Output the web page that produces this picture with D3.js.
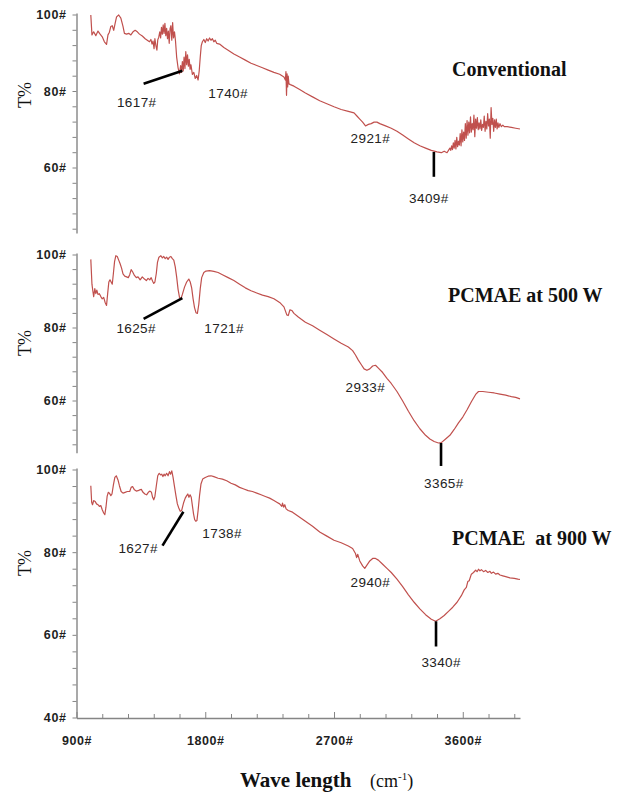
<!DOCTYPE html>
<html>
<head>
<meta charset="utf-8">
<script src="https://cdn.jsdelivr.net/npm/d3@7"></script>
<style>
  body { margin: 0; background: #fff; }
  svg { display: block; }
  .tick text { font-family: "Liberation Sans", Arial, sans-serif; font-weight: bold; font-size: 12.5px; fill: #1f1f1f; letter-spacing: 0.6px; }
  .peak { font-family: "Liberation Sans", Arial, sans-serif; font-size: 13.5px; fill: #222; letter-spacing: 0.4px; }
  .title { font-family: "Liberation Serif", "Times New Roman", serif; font-weight: bold; font-size: 20px; fill: #111; }
</style>
</head>
<body>
<div id="chart"></div>
<script>
// ---- data (wavenumber cm-1, transmittance %) ----
let convWn = [1000,1008,1020,1035,1050,1065,1080,1095,1110,1120,1130,1140,1150,1160,1170,1180,1195,1210,1225,1235,1250,1265,1280,1295,1310,1325,1340,1360,1380,1395,1410,1420,1428,1435,1442,1448,1455,1462,1468,1475,1482,1488,1494,1500,1506,1512,1518,1524,1530,1536,1542,1548,1554,1560,1566,1572,1578,1585,1592,1600,1610,1620,1628,1634,1640,1646,1652,1658,1664,1670,1676,1682,1688,1694,1700,1710,1720,1730,1740,1750,1758,1765,1772,1780,1790,1800,1810,1820,1830,1840,1850,1860,1870,1880,1900,1930,1960,2000,2040,2080,2120,2160,2200,2240,2280,2320,2350,2360,2364,2368,2372,2376,2380,2385,2395,2420,2460,2500,2550,2600,2650,2700,2750,2800,2840,2860,2880,2900,2920,2940,2960,2980,3000,3020,3060,3100,3140,3180,3220,3260,3300,3340,3380,3420,3450,3470,3490,3500,3510,3516,3522,3528,3534,3540,3546,3552,3558,3564,3570,3576,3582,3588,3594,3600,3606,3612,3618,3624,3630,3636,3642,3648,3654,3660,3666,3672,3678,3684,3690,3696,3702,3708,3714,3720,3726,3732,3738,3744,3750,3756,3762,3768,3774,3780,3786,3792,3798,3804,3810,3816,3822,3828,3834,3840,3846,3852,3860,3870,3880,3890,3910,3940,3970,4000]
let convT = [100,94.8,95.6,94.6,95.8,95.0,94.3,93.0,92.3,94.8,95.5,97.0,97.2,96.0,97.8,99.5,100.0,99.2,97.0,95.2,95.0,95.2,94.8,95.6,96.0,95.6,95.0,94.5,93.8,93.4,93.0,93.6,92.4,93.2,91.2,93.8,92.0,90.8,93.5,94.2,95.6,94.0,96.8,95.0,97.4,95.2,97.8,94.6,96.5,93.8,95.8,92.6,96.4,97.2,93.4,98.0,94.0,95.6,93.2,89.0,86.2,84.6,86.8,85.0,87.8,85.4,89.0,86.0,90.4,87.0,89.6,86.6,88.4,85.8,87.0,84.5,85.0,83.4,84.2,83.0,85.5,89.0,92.0,93.0,93.6,92.8,93.8,93.2,94.0,93.4,93.8,93.0,93.4,92.6,92.4,91.5,90.8,89.8,89.0,88.2,87.4,86.8,86.2,85.6,85.0,84.5,83.8,83.0,85.2,79.0,84.6,81.2,84.0,82.0,81.8,81.4,80.5,79.6,78.6,77.6,76.8,76.0,75.3,74.8,74.4,73.6,72.8,72.0,71.0,71.4,71.6,72.0,72.0,71.6,71.0,70.4,69.6,68.6,67.6,66.6,65.8,65.2,64.6,64.2,64.0,64.4,64.0,64.6,65.2,64.6,65.8,64.8,66.6,65.2,67.2,65.0,68.0,65.6,67.0,66.0,69.0,65.8,70.0,66.8,69.4,67.2,71.6,67.8,72.4,68.6,72.0,69.2,73.4,69.4,71.6,70.0,73.8,68.2,72.8,70.4,73.2,70.0,71.8,70.2,72.6,69.8,71.4,70.6,73.6,69.6,72.2,70.2,74.2,71.0,72.8,67.8,75.8,71.4,73.0,69.6,72.6,70.6,72.8,70.2,71.8,70.6,71.6,70.8,71.2,70.8,70.8,70.6,70.4,70.2]

let w500Wn = [1000,1008,1014,1020,1028,1035,1042,1050,1060,1070,1080,1090,1100,1110,1118,1126,1134,1142,1150,1158,1166,1175,1185,1195,1205,1215,1225,1237,1250,1262,1272,1282,1292,1305,1318,1330,1345,1360,1375,1388,1400,1412,1422,1432,1440,1448,1458,1466,1476,1490,1500,1510,1520,1530,1540,1550,1560,1570,1580,1590,1600,1610,1620,1630,1640,1655,1670,1685,1695,1705,1715,1725,1735,1745,1755,1765,1775,1790,1805,1830,1860,1890,1920,1960,2000,2040,2080,2120,2160,2200,2240,2280,2320,2350,2370,2380,2392,2405,2420,2450,2500,2550,2600,2650,2700,2750,2800,2830,2850,2870,2890,2910,2930,2950,2970,2990,3010,3040,3070,3100,3140,3180,3220,3260,3300,3340,3370,3400,3430,3450,3480,3510,3540,3570,3600,3630,3660,3690,3710,3740,3780,3820,3860,3900,3940,3970,4000]
let w500T = [98.8,92.0,90.2,88.6,90.8,89.4,90.4,89.2,89.4,88.6,88.0,88.4,87.0,86.2,89.5,92.6,93.2,92.6,92.0,95.0,98.2,99.8,99.6,98.6,97.6,96.4,94.8,94.2,94.0,93.8,94.6,96.0,95.4,94.4,93.8,94.0,93.2,94.0,93.4,93.0,93.6,93.2,93.8,92.8,92.2,92.6,95.0,98.0,99.4,99.8,99.2,99.6,99.0,99.4,98.8,99.4,99.6,99.0,98.6,96.8,94.0,90.6,88.4,88.0,89.2,91.2,92.6,93.4,92.6,91.0,88.0,85.6,84.2,84.0,86.5,90.8,93.8,95.2,95.6,95.7,95.5,95.2,94.6,93.8,93.0,92.0,91.0,90.2,89.6,89.0,88.6,88.0,87.0,85.8,83.6,83.4,85.0,84.8,84.0,83.0,81.6,80.6,79.4,78.2,77.0,75.8,74.8,73.8,72.6,71.2,70.0,68.8,68.4,68.8,69.6,69.8,69.0,67.8,66.2,64.8,62.6,60.0,57.2,54.6,52.4,50.6,49.6,48.9,48.5,48.6,49.6,50.6,52.2,54.0,55.6,57.6,59.8,61.8,62.6,62.6,62.4,62.2,61.9,61.6,61.2,61.0,60.6]

let w900Wn = [1000,1006,1012,1020,1030,1040,1050,1060,1070,1080,1090,1098,1106,1114,1122,1130,1140,1148,1158,1168,1178,1190,1200,1212,1225,1240,1255,1272,1282,1292,1305,1318,1330,1342,1353,1365,1378,1390,1402,1414,1424,1432,1440,1448,1458,1468,1478,1488,1496,1504,1512,1520,1530,1540,1550,1558,1566,1575,1585,1595,1605,1615,1625,1635,1648,1660,1670,1678,1686,1694,1702,1710,1718,1726,1734,1742,1750,1760,1770,1782,1800,1820,1840,1860,1890,1920,1950,1980,2010,2040,2070,2100,2130,2160,2190,2220,2250,2280,2300,2320,2335,2340,2348,2356,2365,2380,2410,2450,2500,2550,2600,2650,2700,2750,2800,2830,2850,2858,2866,2880,2900,2915,2930,2950,2970,2990,3010,3040,3070,3100,3140,3180,3220,3260,3300,3340,3380,3410,3440,3470,3500,3530,3560,3590,3610,3625,3635,3645,3660,3675,3690,3700,3710,3720,3730,3745,3760,3775,3790,3800,3815,3830,3845,3860,3880,3900,3930,3960,3985,4000]
let w900T = [96.2,92.2,91.6,92.6,92.4,91.8,91.6,91.2,91.4,90.4,89.6,89.2,91.0,93.6,94.6,94.4,93.8,94.2,96.4,98.2,98.6,97.6,96.2,94.8,94.4,94.6,94.8,94.8,95.8,96.0,95.2,94.9,95.0,95.2,95.3,94.6,94.2,94.0,94.6,94.9,94.6,93.4,92.8,93.6,96.2,98.6,99.2,98.8,99.0,98.4,99.0,98.6,99.2,98.6,99.6,99.0,99.8,98.2,96.0,93.8,91.8,90.8,90.0,90.2,92.0,93.2,93.8,94.2,93.4,94.0,93.4,91.4,89.4,88.0,87.6,87.8,90.2,93.8,96.6,97.8,98.2,98.5,98.6,98.4,98.0,97.8,97.4,96.8,96.4,95.8,95.4,95.0,94.8,94.4,94.0,93.6,93.2,92.6,92.2,91.8,91.2,92.0,91.0,91.6,90.6,90.2,89.8,88.8,87.6,86.4,85.0,84.0,83.0,82.4,81.6,81.0,79.8,78.8,79.6,78.0,76.8,76.2,77.0,78.0,78.6,78.6,78.2,77.2,76.2,75.2,73.6,71.8,69.8,68.0,66.4,65.0,63.9,63.4,64.0,64.8,65.8,66.8,68.0,69.6,71.0,71.6,73.0,73.2,74.8,75.2,75.8,75.4,76.0,75.6,75.9,75.4,75.7,75.2,75.5,75.0,75.3,74.8,75.0,74.6,74.4,74.2,73.9,73.8,73.6,73.5]

let panelNames = ["Conventional", "PCMAE at 500 W", "PCMAE  at 900 W"]
let yTickLabels = [100, 80, 60, 40]
let xTickLabels = [900, 1800, 2700, 3600]

// peak annotations: label text, label position, pointer from/to (data units)
let convPeaks = [
  {text: "1617#", wn: 1321, t: 77.3, line: [[1369, 82.0], [1640, 85.4]]},
  {text: "1740#", wn: 1960, t: 79.6},
  {text: "2921#", wn: 2954, t: 67.9},
  {text: "3409#", wn: 3363, t: 52.0, line: [[3398, 64.2], [3398, 57.7]]}
]
let w500Peaks = [
  {text: "1625#", wn: 1317, t: 80.0, line: [[1369, 82.5], [1640, 88.2]]},
  {text: "1721#", wn: 1932, t: 80.0},
  {text: "2933#", wn: 2919, t: 63.8},
  {text: "3365#", wn: 3468, t: 37.5, line: [[3448, 48.5], [3448, 42.2]]}
]
let w900Peaks = [
  {text: "1627#", wn: 1331, t: 81.0, line: [[1501, 81.7], [1647, 89.9]]},
  {text: "1738#", wn: 1918, t: 84.8},
  {text: "2940#", wn: 2954, t: 72.8},
  {text: "3340#", wn: 3449, t: 53.5, line: [[3413, 63.4], [3413, 57.3]]}
]

let width = 622, height = 794
let lineColor = "#c0504d"
let axisColor = "#858585"

let svg = d3.select("#chart").append("svg")
  .attr("width", width)
  .attr("height", height)

let x = d3.scaleLinear().domain([900, 4000]).range([76.5, 520])

// each panel: where 100 and 40 sit, how far down the axis is visible
let panels = [
  {wn: convWn, t: convT, peaks: convPeaks, top: 15, bottom: 244.5, axisMin: 43, titleY: 76, labelY: 95},
  {wn: w500Wn, t: w500T, peaks: w500Peaks, top: 255, bottom: 474, axisMin: 45.8, titleY: 302, labelY: 343},
  {wn: w900Wn, t: w900T, peaks: w900Peaks, top: 470, bottom: 718, axisMin: 40, titleY: 545, labelY: 563}
]

panels.forEach(function(p, i){
  let y = d3.scaleLinear().domain([40, 100]).range([p.bottom, p.top])
  let g = svg.append("g").attr("class", "panel")

  // y axis, cut where the next panel covers it
  let ay = y.copy().domain([p.axisMin, 100]).range([y(p.axisMin), y(100) - 2])
  let ticks = d3.range(100, p.axisMin - 0.01, -4)
  let yAxis = d3.axisLeft(ay)
    .tickValues(ticks)
    .tickSize(4)
    .tickSizeOuter(0)
    .tickPadding(6)
    .tickFormat(function(d){ return yTickLabels.indexOf(d) >= 0 ? d + "#" : "" })
  let ga = g.append("g").attr("transform", "translate(" + x.range()[0] + ",0)").call(yAxis)
  ga.select(".domain").attr("stroke", axisColor).attr("stroke-width", 1.4)
  ga.selectAll(".tick line").attr("stroke", axisColor)
  // labelled ticks sit on the value itself
  ga.selectAll(".tick").attr("transform", function(d){ return "translate(0," + y(d) + ")" })

  // bottom axis only on the last panel
  if (i == panels.length - 1){
    let xt = d3.range(900, 3961, 180)
    let xAxis = d3.axisBottom(x)
      .tickValues(xt)
      .tickSize(-4)
      .tickSizeOuter(0)
      .tickPadding(18)
      .tickFormat(function(d){ return xTickLabels.indexOf(d) >= 0 ? d + "#" : "" })
    let gx = g.append("g").attr("transform", "translate(0," + y(40) + ")").call(xAxis)
    gx.select(".domain").attr("stroke", axisColor).attr("stroke-width", 1.4)
    gx.selectAll(".tick line").attr("stroke", axisColor)
      .attr("y2", function(d){ return xTickLabels.indexOf(d) >= 0 ? -6 : -4 })
  }

  // spectrum
  let pts = p.wn.map(function(w, k){ return [w, p.t[k]] })
  let line = d3.line().x(function(d){ return x(d[0]) }).y(function(d){ return y(d[1]) })
  g.append("path").datum(pts)
    .attr("d", line)
    .attr("fill", "none")
    .attr("stroke", lineColor)
    .attr("stroke-width", 1.2)
    .attr("stroke-linejoin", "round")

  // pointers and peak labels
  p.peaks.forEach(function(pk){
    if (pk.line){
      g.append("line")
        .attr("x1", x(pk.line[0][0])).attr("y1", y(pk.line[0][1]))
        .attr("x2", x(pk.line[1][0])).attr("y2", y(pk.line[1][1]))
        .attr("stroke", "#000")
        .attr("stroke-width", 2.6)
    }
    g.append("text")
      .attr("class", "peak")
      .attr("x", x(pk.wn))
      .attr("y", y(pk.t))
      .attr("text-anchor", "middle")
      .attr("dy", "0.35em")
      .text(pk.text)
  })

  // T% label
  svg.append("text")
    .attr("transform", "translate(31," + p.labelY + ") rotate(-90)")
    .attr("text-anchor", "middle")
    .style("font-family", "Liberation Serif, Times New Roman, serif")
    .style("font-size", "18px")
    .style("fill", "#111")
    .text("T%")

  // panel title
  svg.append("text")
    .attr("class", "title")
    .attr("x", i == 1 ? 448 : 452)
    .attr("y", p.titleY)
    .style("white-space", "pre")
    .text(panelNames[i])
})

// x axis title
let xt = svg.append("text")
  .attr("x", 240)
  .attr("y", 787)
  .style("font-family", "Liberation Serif, Times New Roman, serif")
  .style("fill", "#111")
xt.append("tspan").style("font-weight", "bold").style("font-size", "21px").text("Wave length")
xt.append("tspan").attr("x", 370).style("font-size", "18px").text("(cm")
xt.append("tspan").attr("dy", -7).style("font-size", "11px").text("-1")
xt.append("tspan").attr("dy", 7).style("font-size", "18px").text(")")
</script>
</body>
</html>
